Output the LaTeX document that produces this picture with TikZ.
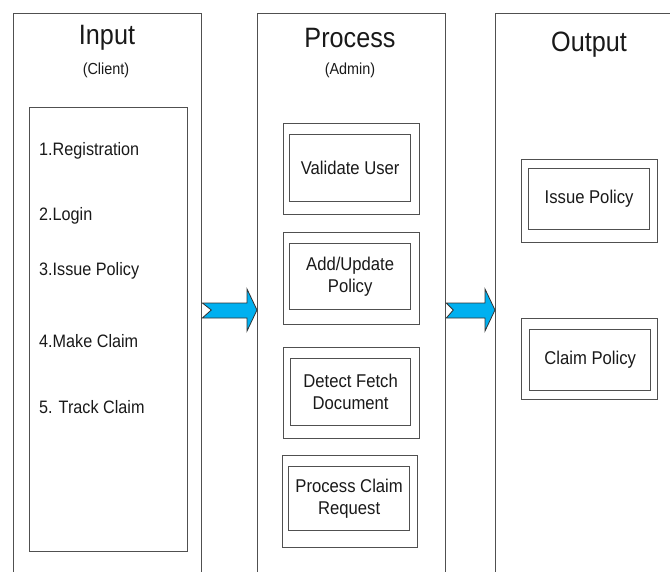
\documentclass[tikz,border=0pt]{standalone}
\usepackage{fontspec}
\setmainfont{Liberation Sans}[FakeStretch=0.9]
\definecolor{edge}{RGB}{80,80,80}
\definecolor{arrowblue}{RGB}{0,176,240}
\definecolor{ink}{RGB}{25,25,25}
\begin{document}
\begin{tikzpicture}[x=1pt,y=-1pt,
  column/.style={draw=edge,line width=1.3pt,anchor=north west,inner sep=0pt,minimum width=188pt,minimum height=600pt},
  outerbox/.style={draw=edge,line width=1.2pt,anchor=north west,inner sep=0pt},
  innerbox/.style={draw=edge,line width=1.3pt,anchor=north west,inner sep=0pt},
  title/.style={text=ink,font=\fontsize{28}{30}\selectfont},
  subtitle/.style={text=ink,font=\fontsize{16}{18}\selectfont},
  item/.style={text=ink,font=\fontsize{18}{20}\selectfont,anchor=west,inner sep=0pt},
  boxtext/.style={text=ink,font=\fontsize{18.5}{22}\selectfont,align=center},
  flow/.style={draw=black!80,line width=0.8pt,fill=arrowblue,line join=miter}]
\useasboundingbox (0,0) rectangle (670,571);
\clip (0,0) rectangle (670,571);
% columns
\node[column] (incol) at (13,13) {};
\node[column] (proccol) at (257,13) {};
\node[column,minimum width=220pt] (outcol) at (495,13) {};
% titles
\node[title] (tin) at (107,38) {Input};
\node[subtitle] (tinsub) at (106,70) {(Client)};
\node[title] (tproc) at (350,38) {Process};
\node[subtitle] (tprocsub) at (350,70) {(Admin)};
\node[title] (tout) at (589,45) {Output};
% input list
\node[innerbox,minimum width=158pt,minimum height=444pt] (list) at (29,107) {};
\node[item] (i1) at (39,151) {1.Registration};
\node[item] (i2) at (39,216) {2.Login};
\node[item] (i3) at (39,271) {3.Issue Policy};
\node[item] (i4) at (39,341) {4.Make Claim};
\node[item] (i5) at (39,407) {5. Track Claim};
% process boxes
\node[outerbox,minimum width=136pt,minimum height=91pt] (vo) at (283,123) {};
\node[innerbox,minimum width=121pt,minimum height=67pt] (vi) at (289,134) {};
\node[boxtext] (vt) at (vi.center) {Validate User};
\node[outerbox,minimum width=136pt,minimum height=92pt] (ao) at (283,232) {};
\node[innerbox,minimum width=121pt,minimum height=66pt] (ai) at (289,243) {};
\node[boxtext] (at) at (ai.center) {Add/Update\\Policy};
\node[outerbox,minimum width=136pt,minimum height=91pt] (do) at (283,347) {};
\node[innerbox,minimum width=120pt,minimum height=67pt] (di) at (290,358) {};
\node[boxtext] (dt) at (di.center) {Detect Fetch\\Document};
\node[outerbox,minimum width=135pt,minimum height=92pt] (po) at (282,455) {};
\node[innerbox,minimum width=121pt,minimum height=64pt] (pi) at (288,466) {};
\node[boxtext] (pt) at (pi.center) {Process Claim\\Request};
% output boxes
\node[outerbox,minimum width=136pt,minimum height=83pt] (io) at (521,159) {};
\node[innerbox,minimum width=121pt,minimum height=61pt] (ii) at (528,168) {};
\node[boxtext] (it) at (ii.center) {Issue Policy};
\node[outerbox,minimum width=136pt,minimum height=81pt] (co) at (521,318) {};
\node[innerbox,minimum width=121pt,minimum height=61pt] (ci) at (529,329) {};
\node[boxtext] (ct) at (ci.center) {Claim Policy};
% flow arrows
\coordinate (a1s) at (incol.east |- 0,310);
\coordinate (a1e) at (proccol.west |- 0,310);
\draw[flow] ([yshift=-8pt]a1s) -- ([xshift=-10pt,yshift=-8pt]a1e) -- ([xshift=-10pt,yshift=-21pt]a1e) -- (a1e)
  -- ([xshift=-10pt,yshift=21pt]a1e) -- ([xshift=-10pt,yshift=7pt]a1e) -- ([yshift=7pt]a1s) -- ([xshift=9pt]a1s) -- cycle;
\coordinate (a2s) at (proccol.east |- 0,310);
\coordinate (a2e) at (outcol.west |- 0,310);
\draw[flow] ([yshift=-8pt]a2s) -- ([xshift=-10pt,yshift=-8pt]a2e) -- ([xshift=-10pt,yshift=-21pt]a2e) -- (a2e)
  -- ([xshift=-10pt,yshift=21pt]a2e) -- ([xshift=-10pt,yshift=7pt]a2e) -- ([yshift=7pt]a2s) -- ([xshift=7pt]a2s) -- cycle;
\end{tikzpicture}
\end{document}
